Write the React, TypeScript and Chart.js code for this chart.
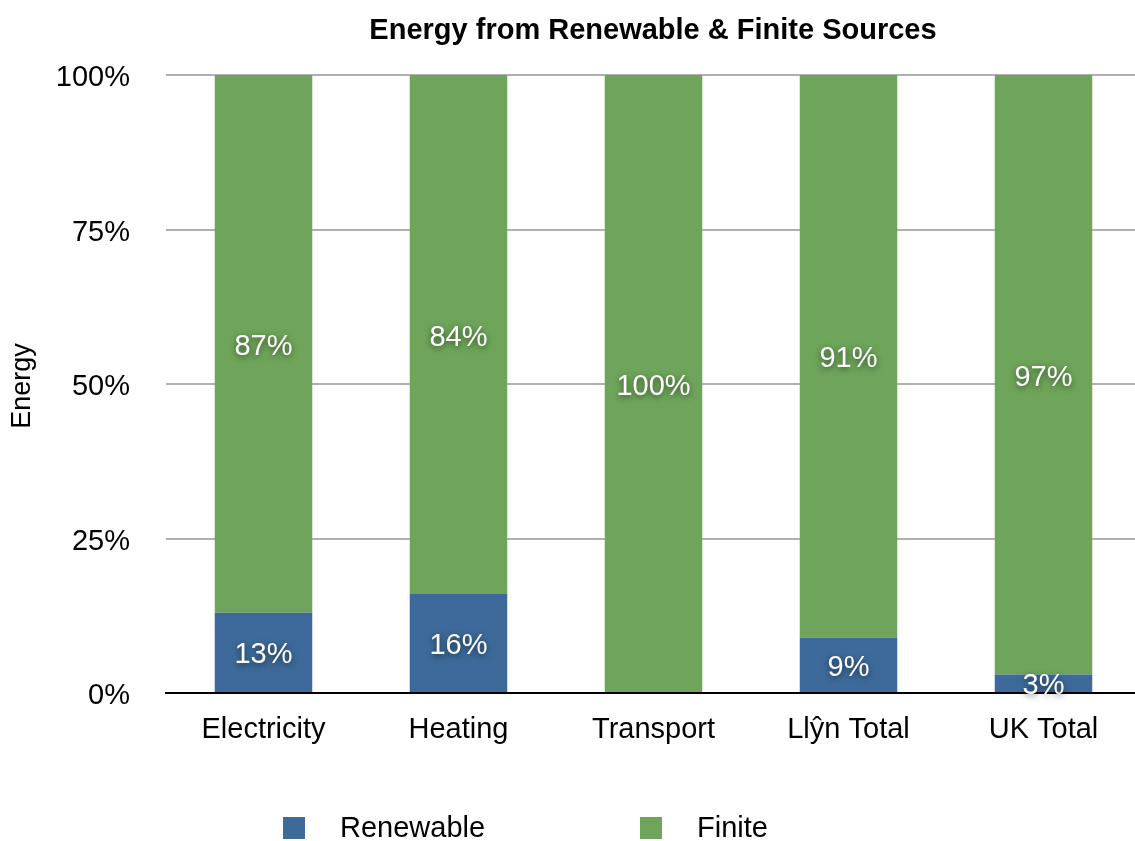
import React, { useEffect, useRef } from "react";
import { Chart, registerables } from "chart.js";

Chart.register(...registerables);

const categories = ["Electricity", "Heating", "Transport", "Llŷn Total", "UK Total"];
const renewable = [13, 16, 0, 9, 3];
const finite = [87, 84, 100, 91, 97];
const yTicks = [0, 25, 50, 75, 100];

const BLUE = "#3D6A9A";
const GREEN = "#6EA55A";
const FONT = "'Liberation Sans', Arial, Helvetica, sans-serif";

const overlayPlugin = {
  id: "overlay",
  afterDatasetsDraw(chart: any) {
    const ctx = chart.ctx;
    ctx.save();
    ctx.font = `29px ${FONT}`;
    ctx.textAlign = "center";
    ctx.textBaseline = "middle";
    ctx.fillStyle = "#ffffff";
    ctx.shadowColor = "rgba(0,0,0,0.55)";
    ctx.shadowBlur = 6;
    ctx.shadowOffsetY = 2;
    chart.data.datasets.forEach((ds: any, di: number) => {
      const meta = chart.getDatasetMeta(di);
      meta.data.forEach((el: any, i: number) => {
        const v = ds.data[i];
        if (!v) return;
        const cy = (el.y + el.base) / 2 + 3;
        ctx.fillText(`${v}%`, el.x, cy);
      });
    });
    ctx.restore();
  },
  afterDraw(chart: any) {
    const ctx = chart.ctx;
    const area = chart.chartArea;
    ctx.save();
    // Title
    ctx.fillStyle = "#000";
    ctx.font = `bold 29px ${FONT}`;
    ctx.textAlign = "center";
    ctx.textBaseline = "middle";
    ctx.fillText("Energy from Renewable & Finite Sources", 653, 31);
    // Y axis title
    ctx.save();
    ctx.translate(23, (area.top + area.bottom) / 2 + 2);
    ctx.rotate(-Math.PI / 2);
    ctx.font = `27px ${FONT}`;
    ctx.fillText("Energy", 0, 0);
    ctx.restore();
    // Legend
    const items = [
      { label: "Renewable", color: BLUE, x: 283 },
      { label: "Finite", color: GREEN, x: 640 },
    ];
    const ly = 828;
    ctx.font = `29px ${FONT}`;
    ctx.textAlign = "left";
    items.forEach((it) => {
      ctx.fillStyle = it.color;
      ctx.fillRect(it.x, ly - 11, 22, 22);
      ctx.fillStyle = "#000";
      ctx.fillText(it.label, it.x + 57, ly + 1);
    });
    ctx.restore();
  },
};

export default function App() {
  const canvasRef = useRef<HTMLCanvasElement | null>(null);

  useEffect(() => {
    if (!canvasRef.current) return;
    const chart = new Chart(canvasRef.current, {
      type: "bar",
      data: {
        labels: categories,
        datasets: [
          { label: "Renewable", data: renewable, backgroundColor: BLUE, barPercentage: 0.5, categoryPercentage: 1.0 },
          { label: "Finite", data: finite, backgroundColor: GREEN, barPercentage: 0.5, categoryPercentage: 1.0 },
        ],
      },
      options: {
        animation: false,
        responsive: true,
        maintainAspectRatio: false,
        layout: { padding: { top: 75, left: 0, right: 0, bottom: 0 } },
        plugins: {
          legend: { display: false },
          title: { display: false },
          tooltip: { enabled: false },
        },
        scales: {
          x: {
            stacked: true,
            grid: { display: false, drawTicks: false },
            border: { display: true, color: "#000", width: 2 },
            ticks: { color: "#000", font: { family: FONT, size: 29 }, padding: 20, maxRotation: 0 },
            afterFit: (s: any) => {
              s.height = 148;
            },
          },
          y: {
            stacked: true,
            min: 0,
            max: 100,
            afterBuildTicks: (s: any) => {
              s.ticks = yTicks.map((v) => ({ value: v }));
            },
            grid: { color: "#B0B0B0", lineWidth: 2, drawTicks: false, tickLength: 0 },
            border: { display: false },
            ticks: {
              color: "#000",
              font: { family: FONT, size: 29 },
              padding: 36,
              labelOffset: 3,
              callback: (v: any) => `${v}%`,
            },
            afterFit: (s: any) => {
              s.width = 166;
            },
          },
        },
      },
      plugins: [overlayPlugin],
    });
    return () => chart.destroy();
  }, []);

  return (
    <div style={{ position: "fixed", left: 0, top: 0, width: 1135, height: 841, background: "#fff", overflow: "hidden" }}>
      <div style={{ position: "relative", width: 1141, height: 841 }}>
        <canvas ref={canvasRef} />
      </div>
    </div>
  );
}
